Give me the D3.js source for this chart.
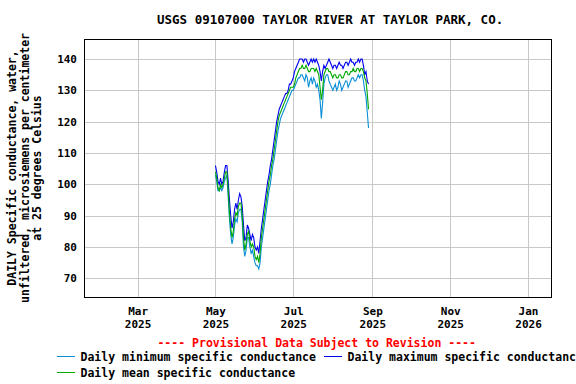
<!DOCTYPE html>
<html>
<head>
<meta charset="utf-8">
<script src="https://cdn.jsdelivr.net/npm/d3@7"></script>
<style>
  html, body { margin: 0; padding: 0; background: #fff; }
  svg text { font-family: "DejaVu Sans Mono", "Liberation Mono", monospace; font-weight: bold; }
</style>
</head>
<body>
<svg id="chart" width="576" height="384"></svg>
<script>
// ---- data ----
const titleText = "USGS 09107000 TAYLOR RIVER AT TAYLOR PARK, CO.";
const yLabelLines = ["DAILY Specific conductance, water,", "unfiltered, microsiemens per centimeter", "at 25 degrees Celsius"];
const provisionalText = "---- Provisional Data Subject to Revision ----";
const seriesNames = ["Daily minimum specific conductance", "Daily maximum specific conductance", "Daily mean specific conductance"];
const seriesColors = ["#0a8ed6", "#0000f0", "#00a800"];
const startDate = "2025-05-01";
const yTicks = [70, 80, 90, 100, 110, 120, 130, 140];
const xTickDates = ["2025-03-01", "2025-05-01", "2025-07-01", "2025-09-01", "2025-11-01", "2026-01-01"];
const xTickMonths = ["Mar", "May", "Jul", "Sep", "Nov", "Jan"];
const xTickYears = ["2025", "2025", "2025", "2025", "2025", "2026"];

const maxVals = [106,104,101,100,102,100,101,104,106,106,101,95,90,86,88,92,94,92,95,97,
  96,93,87,82,83,87,86,84,82,84,83,80,79,80,78,82,86,89,92,95,
  98,101,103,106,108,111,114,117,120,122,124,125,126,127,128,129,129,130,132,132,
  133,134,136,137,138,139,140,140,140,139,140,140,139,138,139,140,139,140,139,140,
  139,138,136,133,136,138,137,138,139,140,139,138,137,138,138,137,138,139,138,138,
  137,138,139,139,138,139,140,139,139,138,139,139,140,139,140,140,138,135,136,133,132];
const meanVals = [104,102,99,98,100,99,100,102,104,104,98,91,86,83,85,89,91,90,93,94,
  94,90,83,79,81,84,85,82,80,81,80,77,76,77,75,78,83,86,89,92,
  95,98,101,103,106,108,111,114,117,120,122,123,124,125,126,127,128,129,130,131,
  131,131,132,134,135,136,137,137,138,137,137,138,137,136,136,137,137,137,136,137,
  136,135,131,127,130,135,136,137,137,136,136,135,134,135,135,134,134,135,135,134,
  134,135,136,136,135,135,136,136,137,136,136,137,137,136,137,137,136,134,133,129,124];
const minVals = [103,101,98,98,99,98,99,101,102,103,96,89,84,81,83,87,89,88,91,92,
  92,88,80,77,79,83,83,80,78,79,77,75,74,74,73,75,80,83,86,89,
  92,95,98,100,103,106,108,111,114,117,119,121,122,123,124,125,126,127,128,129,
  130,130,131,132,133,134,134,135,135,134,133,135,134,131,133,134,132,134,133,131,
  132,130,127,121,126,132,134,135,135,133,132,131,130,131,132,130,131,133,132,130,
  131,132,133,133,131,132,133,134,134,133,133,134,135,134,135,135,133,130,128,123,118];

// ---- layout ----
const svg = d3.select("#chart");
const W = 576, H = 384;
const plot = { left: 84, top: 39, right: 551, bottom: 297 };

const parse = d3.utcParse("%Y-%m-%d");
const t0 = parse(startDate);
const dates = maxVals.map((_, i) => d3.utcDay.offset(t0, i));

const x = d3.scaleUtc()
  .domain([parse("2025-01-18"), parse("2026-01-19")])
  .range([plot.left, plot.right]);
const y = d3.scaleLinear()
  .domain([64.04, 146.4])
  .range([plot.bottom, plot.top]);

svg.append("rect").attr("width", W).attr("height", H).attr("fill", "#fff");

// grid
const gridG = svg.append("g").attr("stroke", "#c8c8c8").attr("stroke-width", 1).attr("shape-rendering", "crispEdges");
gridG.selectAll("line.h").data(yTicks).join("line")
  .attr("x1", plot.left).attr("x2", plot.right)
  .attr("y1", d => Math.round(y(d)) + 0.5).attr("y2", d => Math.round(y(d)) + 0.5);
gridG.selectAll("line.v").data(xTickDates).join("line")
  .attr("y1", plot.top).attr("y2", plot.bottom)
  .attr("x1", d => Math.round(x(parse(d))) + 0.5).attr("x2", d => Math.round(x(parse(d))) + 0.5);

// y axis labels
const yAxis = d3.axisLeft(y).tickValues(yTicks).tickSize(0).tickPadding(7);
const yG = svg.append("g").attr("transform", `translate(${plot.left},0)`).call(yAxis);
yG.select(".domain").remove();
yG.selectAll("text").attr("font-size", 11).attr("fill", "#000")
  .style("font-family", '"DejaVu Sans Mono", monospace').style("font-weight", "bold");

// x axis labels (two lines)
const xAxis = d3.axisBottom(x).tickValues(xTickDates.map(parse)).tickSize(0).tickFormat(() => "");
const xG = svg.append("g").attr("transform", `translate(0,${plot.bottom})`).call(xAxis);
xG.select(".domain").remove();
xG.selectAll(".tick").each(function(d, i) {
  const g = d3.select(this);
  g.append("text").attr("y", 18).attr("text-anchor", "middle").attr("font-size", 11).attr("fill", "#000").text(xTickMonths[i]);
  g.append("text").attr("y", 31).attr("text-anchor", "middle").attr("font-size", 11).attr("fill", "#000").text(xTickYears[i]);
});

// series lines
const seriesData = [minVals, maxVals, meanVals];
const line = d3.line().x((d, i) => x(dates[i])).y(d => y(d));
const lineG = svg.append("g");
seriesData.forEach((vals, k) => {
  lineG.append("path").datum(vals)
    .attr("fill", "none").attr("stroke", seriesColors[k]).attr("stroke-width", 1.1)
    .attr("d", line);
});

// border
svg.append("rect")
  .attr("x", plot.left + 0.5).attr("y", plot.top + 0.5)
  .attr("width", plot.right - plot.left).attr("height", plot.bottom - plot.top)
  .attr("fill", "none").attr("stroke", "#000").attr("stroke-width", 1).attr("shape-rendering", "crispEdges");

// title
svg.append("text").attr("x", 157).attr("y", 24).attr("font-size", 12.5).attr("fill", "#000").text(titleText);

// y label
const yl = svg.append("g").attr("transform", `translate(0,${(plot.top + plot.bottom) / 2}) rotate(-90)`);
const ylX = [16, 29, 41];
yLabelLines.forEach((t, i) => {
  yl.append("text").attr("x", 0).attr("y", ylX[i]).attr("text-anchor", "middle")
    .attr("font-size", 11.5).attr("fill", "#000").text(t);
});

// provisional
svg.append("text").attr("x", 316.7).attr("y", 346.5).attr("text-anchor", "middle")
  .attr("font-size", 11.5).attr("fill", "#ff0000").text(provisionalText);

// legend
const legendPos = [[57, 356.5], [324, 356.5], [57, 372.5]];
seriesNames.forEach((nm, k) => {
  const [lx, ly] = legendPos[k];
  svg.append("line").attr("x1", lx).attr("x2", lx + 18).attr("y1", ly).attr("y2", ly)
    .attr("stroke", seriesColors[k]).attr("stroke-width", 1);
  svg.append("text").attr("x", lx + 23.5).attr("y", ly + 4).attr("font-size", 11.5).attr("fill", "#000").text(nm);
});
</script>
</body>
</html>
